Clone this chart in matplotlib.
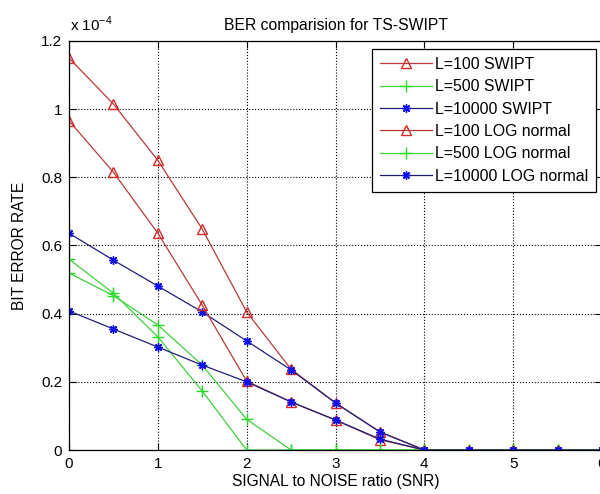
import matplotlib
matplotlib.use('Agg')
import matplotlib.pyplot as plt

plt.rcParams['font.family'] = ['Liberation Sans', 'DejaVu Sans']

# BER values in units of 1e-4
snr = [0, 0.5, 1, 1.5, 2, 2.5, 3, 3.5, 4, 4.5, 5, 5.5, 6]
ber_100_swipt = [1.15, 1.015, 0.85, 0.648, 0.405, 0.237, 0.138, 0.053, 0, 0, 0, 0, 0]
ber_500_swipt = [0.56, 0.46, 0.332, 0.173, 0, 0, 0, 0, 0, 0, 0, 0, 0]
ber_10000_swipt = [0.636, 0.557, 0.481, 0.405, 0.32, 0.235, 0.138, 0.053, 0, 0, 0, 0, 0]
ber_100_log = [0.966, 0.815, 0.636, 0.425, 0.202, 0.141, 0.088, 0.03, 0, 0, 0, 0, 0]
ber_500_log = [0.519, 0.453, 0.367, 0.249, 0.09, 0, 0, 0, 0, 0, 0, 0, 0]
ber_10000_log = [0.408, 0.355, 0.302, 0.249, 0.2, 0.141, 0.088, 0.032, 0, 0, 0, 0, 0]

labels = ['L=100 SWIPT', 'L=500 SWIPT', 'L=10000 SWIPT',
          'L=100 LOG normal', 'L=500 LOG normal', 'L=10000 LOG normal']

red_line, red_mk = '#b83a3a', '#d42a2a'
grn_line, grn_mk = '#3fd03f', '#22dd22'
blu_line, blu_mk = '#1f1f7a', '#1010ee'
star = (8, 2, 0)

fig = plt.figure(figsize=(6, 4.94), dpi=100)
ax = fig.add_axes([69/600, 1 - 450/494, 533/600, 409/494])

ax.plot(snr, ber_100_swipt, '-', color=red_line, marker='^', mfc='none', mec=red_mk, ms=7, lw=0.9, label=labels[0])
ax.plot(snr, ber_500_swipt, '-', color=grn_line, marker='+', mec=grn_mk, ms=8, lw=0.9, label=labels[1])
ax.plot(snr, ber_10000_swipt, '-', color=blu_line, marker=star, mec=blu_mk, ms=6, lw=0.9, label=labels[2])
ax.plot(snr, ber_100_log, '-', color=red_line, marker='^', mfc='none', mec=red_mk, ms=7, lw=0.9, label=labels[3])
ax.plot(snr, ber_500_log, '-', color=grn_line, marker='+', mec=grn_mk, ms=8, lw=0.9, label=labels[4])
ax.plot(snr, ber_10000_log, '-', color=blu_line, marker=star, mec=blu_mk, ms=6, lw=0.9, label=labels[5])

ax.set_xlim(0, 6)
ax.set_ylim(0, 1.2)
ax.set_xticks([0, 1, 2, 3, 4, 5, 6])
ax.set_yticks([0, 0.2, 0.4, 0.6, 0.8, 1.0, 1.2])
ax.set_yticklabels(['0', '0.2', '0.4', '0.6', '0.8', '1', '1.2'])
ax.grid(True, linestyle=':', color='k', linewidth=0.8)
ax.tick_params(direction='in', top=True, right=True, length=5, width=0.8,
               labelsize=11, pad=5)
for s in ax.spines.values():
    s.set_linewidth(0.9)

ax.set_title('BER comparision for TS-SWIPT', fontsize=11.3, pad=8)
ax.set_xlabel('SIGNAL to NOISE ratio (SNR)', fontsize=11.2, labelpad=2)
ax.set_ylabel('BIT ERROR RATE', fontsize=11.2, labelpad=10)
ax.text(0.002, 1.018, r'x 10$^{\mathregular{-4}}$', transform=ax.transAxes,
        fontsize=11, ha='left', va='bottom')

leg = ax.legend(loc='upper right', bbox_to_anchor=(0.989, 0.981), fontsize=11.4,
                fancybox=False, edgecolor='k', framealpha=1, handlelength=3.3,
                handletextpad=0.2, labelspacing=0.47, borderpad=0.5,
                borderaxespad=0)
leg.get_frame().set_linewidth(0.9)

fig.savefig('out.png', dpi=100)
